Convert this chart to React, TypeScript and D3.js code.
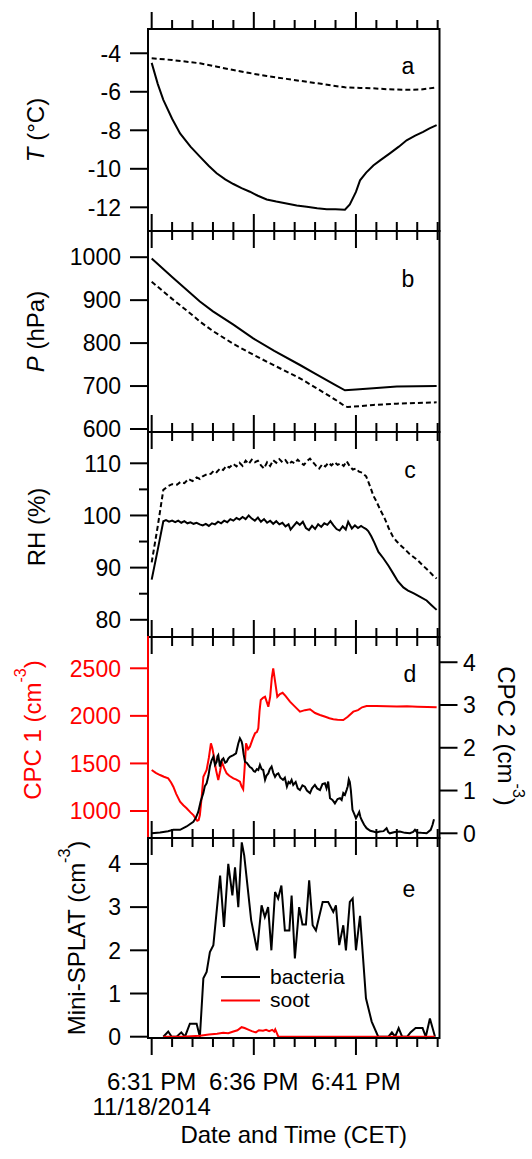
import React from "react";
import * as d3 from "d3";

// ---------- DATA (minutes after 6:30 PM, 11/18/2014) ----------
const tempTime = [1.0, 1.3, 1.57, 2.0, 2.39, 2.9, 3.36, 3.8, 4.18, 4.6, 5.0, 5.4, 5.81, 6.2, 6.63, 7.1, 7.6, 8.1, 8.59, 9.1, 9.57, 10.0, 10.46, 10.7, 11.0, 11.2, 11.5, 11.85, 12.2, 12.66, 13.1, 13.48, 13.9, 14.29, 14.6, 14.95];
const tempGas = [-4.5, -5.6, -6.42, -7.4, -8.16, -8.85, -9.37, -9.85, -10.23, -10.55, -10.79, -11.0, -11.19, -11.4, -11.59, -11.7, -11.8, -11.9, -11.97, -12.05, -12.1, -12.1, -12.12, -11.85, -11.2, -10.6, -10.2, -9.83, -9.55, -9.2, -8.85, -8.52, -8.28, -8.08, -7.9, -7.73];
const tempWallTime = [1.0, 2.0, 3.36, 4.2, 5.0, 5.8, 6.63, 7.6, 8.59, 9.5, 10.46, 11.2, 11.85, 12.6, 13.48, 14.2, 14.95];
const tempWall = [-4.26, -4.35, -4.52, -4.7, -4.87, -5.03, -5.18, -5.33, -5.48, -5.62, -5.77, -5.8, -5.82, -5.87, -5.9, -5.88, -5.77];

const presTime = [1.0, 2.0, 3.0, 3.36, 4.0, 5.0, 5.97, 7.0, 8.26, 9.0, 10.0, 10.46, 11.0, 11.85, 13.0, 14.95];
const presSolid = [997, 954, 912, 897, 874, 843, 811, 782, 749, 729, 702, 690, 692, 695, 699, 700];
const presDashTime = [1.0, 2.0, 3.0, 3.36, 4.0, 5.0, 5.97, 7.0, 8.26, 9.0, 10.0, 10.46, 10.6, 11.85, 13.0, 14.95];
const presDash = [943, 903, 865, 850, 828, 798, 773, 748, 718, 697, 668, 653, 651, 656, 659, 662];

const rhWaterTime = [1.0, 1.3, 1.57, 1.7, 1.85, 2.0, 2.15, 2.3, 2.45, 2.6, 2.75, 2.9, 3.05, 3.2, 3.35, 3.5, 3.65, 3.8, 3.95, 4.1, 4.25, 4.4, 4.55, 4.7, 4.85, 5.0, 5.15, 5.3, 5.45, 5.6, 5.75, 5.9, 6.05, 6.2, 6.35, 6.5, 6.65, 6.8, 6.95, 7.1, 7.25, 7.4, 7.55, 7.7, 7.8, 7.95, 8.1, 8.25, 8.4, 8.55, 8.7, 8.85, 9.0, 9.15, 9.3, 9.45, 9.6, 9.75, 9.9, 10.05, 10.2, 10.35, 10.5, 10.62, 10.8, 10.95, 11.1, 11.25, 11.4, 11.5, 11.6, 11.75, 11.9, 12.1, 12.34, 12.6, 12.82, 13.05, 13.32, 13.55, 13.81, 14.1, 14.46, 14.7, 14.95];
const rhWater = [87.7, 93.5, 98.9, 99.1, 98.8, 99.0, 98.7, 99.0, 98.6, 98.9, 98.5, 98.7, 98.4, 98.6, 98.3, 98.1, 98.4, 98.0, 98.5, 98.3, 98.8, 98.5, 99.0, 98.7, 99.3, 99.0, 99.5, 99.2, 99.7, 99.3, 100.0, 99.4, 99.0, 99.6, 98.8, 99.3, 98.6, 99.0, 98.4, 98.9, 98.3, 98.6, 97.9, 98.3, 97.3, 98.0, 98.7, 98.2, 98.8, 97.6, 97.2, 98.0, 97.4, 98.3, 97.8, 98.5, 98.2, 98.9, 98.1, 97.4, 97.1, 97.9, 97.3, 98.8, 97.5, 98.1, 97.6, 98.0, 97.6, 97.4, 97.0, 96.0, 94.8, 93.0, 91.8, 90.3, 88.9, 87.4, 86.2, 85.6, 85.1, 84.5, 83.7, 82.8, 81.9];
const rhIceTime = [1.0, 1.3, 1.57, 1.8, 2.0, 2.24, 2.4, 2.6, 2.8, 3.0, 3.2, 3.36, 3.5, 3.7, 3.9, 4.05, 4.18, 4.35, 4.5, 4.65, 4.8, 5.0, 5.15, 5.3, 5.45, 5.6, 5.75, 5.9, 6.05, 6.2, 6.35, 6.5, 6.65, 6.8, 6.95, 7.1, 7.25, 7.4, 7.55, 7.7, 7.85, 8.0, 8.15, 8.3, 8.45, 8.6, 8.75, 8.9, 9.05, 9.2, 9.35, 9.5, 9.65, 9.8, 9.95, 10.1, 10.25, 10.4, 10.55, 10.7, 10.85, 11.0, 11.15, 11.3, 11.5, 11.7, 11.85, 12.0, 12.2, 12.4, 12.6, 12.8, 13.0, 13.15, 13.4, 13.6, 13.8, 14.0, 14.25, 14.5, 14.75, 14.95];
const rhIce = [91.0, 98.0, 104.9, 105.6, 106.0, 105.9, 106.4, 106.2, 107.0, 106.6, 107.3, 107.0, 107.5, 107.9, 108.0, 108.6, 108.3, 109.0, 108.7, 109.5, 109.2, 109.9, 109.4, 110.1, 109.5, 110.5, 109.9, 110.7, 110.2, 110.5, 109.6, 109.0, 110.2, 109.5, 110.6, 110.1, 110.8, 110.2, 110.6, 109.8, 110.3, 110.0, 110.7, 110.1, 109.7, 110.4, 110.9, 110.2, 109.5, 109.0, 109.8, 109.4, 110.1, 109.6, 110.2, 109.7, 110.0, 109.5, 110.4, 109.4, 108.8, 109.0, 108.4, 108.2, 107.5, 105.5, 103.8, 102.7, 101.0, 99.5, 97.6, 96.0, 95.0, 94.4, 93.5, 92.7, 92.1, 91.5, 90.5, 89.6, 88.6, 87.9];

const cpc1Time = [1.0, 1.2, 1.41, 1.6, 1.81, 1.95, 2.06, 2.2, 2.39, 2.55, 2.71, 2.9, 3.04, 3.15, 3.23, 3.3, 3.36, 3.45, 3.53, 3.69, 3.8, 3.9, 3.97, 4.05, 4.15, 4.26, 4.35, 4.43, 4.55, 4.67, 4.8, 5.0, 5.15, 5.32, 5.4, 5.48, 5.55, 5.62, 5.72, 5.81, 5.95, 6.06, 6.15, 6.22, 6.28, 6.34, 6.45, 6.55, 6.63, 6.71, 6.8, 6.88, 6.95, 7.05, 7.15, 7.28, 7.41, 7.55, 7.77, 8.0, 8.26, 8.5, 8.75, 9.0, 9.24, 9.5, 9.7, 9.89, 10.1, 10.38, 10.6, 10.87, 11.1, 11.3, 11.52, 12.0, 12.5, 13.0, 13.5, 14.0, 14.5, 14.95];
const cpc1 = [1431, 1400, 1378, 1360, 1343, 1300, 1255, 1180, 1097, 1060, 1028, 985, 957, 920, 897, 905, 957, 1150, 1360, 1431, 1560, 1711, 1660, 1570, 1430, 1325, 1420, 1518, 1450, 1396, 1370, 1343, 1330, 1308, 1260, 1228, 1450, 1711, 1650, 1676, 1760, 1817, 1830, 1869, 2050, 2167, 2190, 2201, 2150, 2096, 2200, 2400, 2500, 2350, 2201, 2230, 2243, 2210, 2149, 2100, 2044, 2060, 2069, 2030, 2009, 1990, 1975, 1964, 1960, 1956, 1990, 2044, 2060, 2090, 2104, 2104, 2100, 2098, 2100, 2096, 2094, 2090];
const cpc2Time = [1.0, 1.41, 1.8, 2.06, 2.39, 2.71, 3.04, 3.15, 3.28, 3.4, 3.53, 3.6, 3.69, 3.78, 3.85, 3.93, 4.02, 4.1, 4.18, 4.22, 4.26, 4.3, 4.34, 4.42, 4.51, 4.6, 4.67, 4.75, 4.83, 5.0, 5.13, 5.24, 5.32, 5.4, 5.44, 5.5, 5.57, 5.65, 5.73, 5.81, 5.9, 6.0, 6.06, 6.15, 6.22, 6.3, 6.38, 6.46, 6.55, 6.62, 6.71, 6.78, 6.87, 6.95, 7.04, 7.12, 7.2, 7.3, 7.43, 7.52, 7.62, 7.7, 7.77, 7.85, 7.93, 8.05, 8.15, 8.26, 8.38, 8.5, 8.6, 8.75, 8.85, 8.99, 9.1, 9.24, 9.36, 9.48, 9.56, 9.64, 9.73, 9.85, 9.97, 10.1, 10.22, 10.3, 10.38, 10.46, 10.54, 10.6, 10.65, 10.7, 10.75, 10.83, 10.92, 11.0, 11.08, 11.16, 11.22, 11.28, 11.4, 11.52, 11.7, 11.85, 12.0, 12.17, 12.35, 12.5, 12.58, 12.66, 12.9, 13.15, 13.4, 13.64, 13.8, 13.89, 14.0, 14.2, 14.46, 14.66, 14.75, 14.82];
const cpc2 = [0, 0.02, 0.05, 0.08, 0.08, 0.16, 0.27, 0.35, 0.5, 0.75, 0.94, 1.1, 1.17, 1.35, 1.56, 1.7, 1.79, 1.6, 1.67, 1.8, 1.83, 1.7, 1.56, 1.7, 1.75, 1.65, 1.67, 1.75, 1.79, 1.83, 1.87, 2.1, 2.22, 2.15, 2.07, 1.85, 1.67, 1.65, 1.6, 1.55, 1.52, 1.45, 1.44, 1.5, 1.48, 1.6, 1.5, 1.48, 1.25, 1.35, 1.4, 1.5, 1.56, 1.42, 1.32, 1.38, 1.4, 1.3, 1.25, 1.3, 1.09, 1.2, 1.17, 1.25, 1.13, 1.2, 1.05, 1.01, 1.12, 1.09, 1.0, 0.94, 1.05, 1.13, 1.05, 1.01, 1.15, 1.17, 1.05, 1.21, 0.82, 0.78, 0.7, 0.8, 0.82, 0.78, 0.94, 0.9, 1.01, 1.1, 1.26, 1.2, 1.01, 0.55, 0.45, 0.35, 0.42, 0.5, 0.38, 0.31, 0.2, 0.12, 0.06, 0.04, 0.02, 0.04, 0.05, 0.12, 0.03, 0, 0.03, 0.04, 0.01, 0, 0.03, 0.08, 0.02, 0.01, 0, 0.08, 0.2, 0.33];

const splatTime = [1.57, 1.81, 1.98, 2.22, 2.45, 2.63, 2.87, 3.2, 3.36, 3.53, 3.69, 3.85, 4.02, 4.35, 4.54, 4.75, 4.95, 5.08, 5.24, 5.41, 5.53, 5.87, 6.16, 6.38, 6.54, 6.7, 6.86, 7.04, 7.19, 7.35, 7.52, 7.74, 7.85, 8.01, 8.22, 8.38, 8.55, 8.71, 8.88, 9.04, 9.37, 9.64, 9.89, 10.02, 10.18, 10.38, 10.51, 10.7, 10.84, 11.0, 11.2, 11.49, 11.77, 12.09, 12.59, 12.76, 12.92, 13.09, 13.26, 13.51, 13.67, 13.92, 14.26, 14.42, 14.62, 14.87];
const bacteria = [0, 0.12, 0, 0, 0.1, 0, 0.3, 0.3, 0, 1.35, 1.5, 1.96, 2.12, 3.73, 2.54, 4.0, 3.27, 3.92, 3.0, 4.5, 4.2, 2.7, 2.0, 3.04, 2.77, 3.0, 2.0, 3.35, 3.2, 3.5, 2.46, 2.46, 3.27, 1.81, 3.0, 2.6, 2.6, 3.62, 2.58, 2.46, 3.12, 3.12, 2.89, 3.04, 2.12, 2.58, 2.0, 3.12, 3.2, 2.0, 2.8, 0.89, 0.35, 0, 0, 0.1, 0, 0.2, 0, 0, 0.1, 0.2, 0.2, 0, 0.42, 0];
const sootTime = [1.57, 2.5, 3.36, 3.8, 4.2, 4.5, 4.75, 5.0, 5.2, 5.4, 5.55, 5.7, 5.9, 6.1, 6.25, 6.45, 6.6, 6.75, 6.9, 7.0, 7.05, 7.2, 14.87];
const soot = [0, 0, 0.02, 0.05, 0.07, 0.09, 0.08, 0.12, 0.15, 0.22, 0.2, 0.17, 0.13, 0.1, 0.15, 0.14, 0.16, 0.13, 0.16, 0.12, 0.17, 0.0, 0];

const tTicks = [-12, -10, -8, -6, -4];
const pTicks = [600, 700, 800, 900, 1000];
const rhTicks = [80, 90, 100, 110];
const rhMinor = [85, 95, 105];
const cpc1Ticks = [1000, 1500, 2000, 2500];
const cpc2Ticks = [0, 1, 2, 3, 4];
const splatTicks = [0, 1, 2, 3, 4];
const legendLabels = ["bacteria", "soot"];
const dateLabel = "11/18/2014";

// ---------- LAYOUT ----------
const W = 532, H = 1159;
const L = 148, R = 439.5;
const FONT = "'Liberation Sans', Arial, sans-serif";
const FS = 23;
const TS = 24;
const panels = [
  { top: 29, bottom: 231 },
  { top: 231, bottom: 432 },
  { top: 432, bottom: 637 },
  { top: 637, bottom: 838 },
  { top: 838, bottom: 1038 },
];
const BASE = new Date(2014, 10, 18, 18, 30, 0).getTime();
const at = (m: number) => new Date(BASE + m * 60000);

const x = d3.scaleTime().domain([at(0.82), at(15.09)]).range([L, R]);
const yA = d3.scaleLinear().domain([-13.23, -2.74]).range([panels[0].bottom, panels[0].top]);
const yB = d3.scaleLinear().domain([593, 1061]).range([panels[1].bottom, panels[1].top]);
const yC = d3.scaleLinear().domain([76.7, 116]).range([panels[2].bottom, panels[2].top]);
const yD1 = d3.scaleLinear().domain([716, 2829]).range([panels[3].bottom, panels[3].top]);
const yD2 = d3.scaleLinear().domain([-0.11, 4.59]).range([panels[3].bottom, panels[3].top]);
const yE = d3.scaleLinear().domain([-0.03, 4.6]).range([panels[4].bottom, panels[4].top]);

function path(ts: number[], vs: number[], y: d3.ScaleLinear<number, number>) {
  const gen = d3.line<number>().x((_, i) => x(at(ts[i]))).y((v) => y(v));
  return gen(vs) || "";
}

const xTicks = x.ticks(d3.timeMinute.every(1) as any);
const fmt = d3.timeFormat("%-I:%M %p");

function YAxisLeft({ y, ticks, minor = [], color = "black" }: any) {
  return (
    <g>
      {ticks.map((t: number) => (
        <g key={t}>
          <line x1={L - 18} x2={L} y1={y(t)} y2={y(t)} stroke={color} strokeWidth={2} />
          <text x={121} y={y(t)} dy="0.36em" textAnchor="end" fill={color} fontSize={FS} fontFamily={FONT}>
            {t < 0 ? "-" + Math.abs(t) : t}
          </text>
        </g>
      ))}
      {minor.map((t: number) => (
        <line key={"m" + t} x1={L - 9} x2={L} y1={y(t)} y2={y(t)} stroke={color} strokeWidth={2} />
      ))}
    </g>
  );
}

export default function App() {
  return (
    <svg width={W} height={H} style={{ position: "absolute", left: 0, top: 0, background: "white" }} fontFamily={FONT}>
      <rect width={W} height={H} fill="white" />
      {panels.map((p, i) => (
        <g key={"xt" + i}>
          {xTicks.map((d) => {
            const m = d.getMinutes();
            const major = (m - 31) % 5 === 0;
            const len = major ? 17 : 9;
            const xx = x(d);
            return (
              <g key={+d}>
                <line x1={xx} x2={xx} y1={p.top - len} y2={p.top} stroke="black" strokeWidth={2} />
                <line x1={xx} x2={xx} y1={p.bottom} y2={p.bottom + len} stroke="black" strokeWidth={2} />
              </g>
            );
          })}
        </g>
      ))}

      {/* Panel a */}
      <path d={path(tempTime, tempGas, yA)} fill="none" stroke="black" strokeWidth={2} />
      <path d={path(tempWallTime, tempWall, yA)} fill="none" stroke="black" strokeWidth={2} strokeDasharray="5 3" />
      <YAxisLeft y={yA} ticks={tTicks} />
      <text x={408} y={74} textAnchor="middle" fontSize={FS}>a</text>
      <text transform={`translate(44,${(panels[0].top + panels[0].bottom) / 2}) rotate(-90)`} textAnchor="middle" fontSize={TS}>
        <tspan fontStyle="italic">T</tspan> (°C)
      </text>

      {/* Panel b */}
      <path d={path(presTime, presSolid, yB)} fill="none" stroke="black" strokeWidth={2} />
      <path d={path(presDashTime, presDash, yB)} fill="none" stroke="black" strokeWidth={2} strokeDasharray="5 3" />
      <YAxisLeft y={yB} ticks={pTicks} />
      <text x={408} y={287} textAnchor="middle" fontSize={FS}>b</text>
      <text transform={`translate(44,${(panels[1].top + panels[1].bottom) / 2}) rotate(-90)`} textAnchor="middle" fontSize={TS}>
        <tspan fontStyle="italic">P</tspan> (hPa)
      </text>

      {/* Panel c */}
      <path d={path(rhWaterTime, rhWater, yC)} fill="none" stroke="black" strokeWidth={2} />
      <path d={path(rhIceTime, rhIce, yC)} fill="none" stroke="black" strokeWidth={2} strokeDasharray="5 3" />
      <YAxisLeft y={yC} ticks={rhTicks} minor={rhMinor} />
      <text x={410} y={478} textAnchor="middle" fontSize={FS}>c</text>
      <text transform={`translate(45,527) rotate(-90)`} textAnchor="middle" fontSize={TS}>RH (%)</text>

      {/* Panel d */}
      <path d={path(cpc1Time, cpc1, yD1)} fill="none" stroke="red" strokeWidth={2} />
      <path d={path(cpc2Time, cpc2, yD2)} fill="none" stroke="black" strokeWidth={2} />
      <YAxisLeft y={yD1} ticks={cpc1Ticks} color="red" />
      {cpc2Ticks.map((t) => (
        <g key={"r" + t}>
          <line x1={R} x2={R + 18} y1={yD2(t)} y2={yD2(t)} stroke="black" strokeWidth={2} />
          <text x={463} y={yD2(t)} dy="0.36em" fontSize={FS}>{t}</text>
        </g>
      ))}
      <text x={410} y={682} textAnchor="middle" fontSize={FS}>d</text>
      <text transform={`translate(41,730) rotate(-90)`} textAnchor="middle" fontSize={TS} fill="red">
        CPC 1 (cm<tspan dy={-15} fontSize={16}>-3</tspan><tspan dy={15}>)</tspan>
      </text>
      <text transform={`translate(498,736) rotate(90)`} textAnchor="middle" fontSize={TS}>
        CPC 2 (cm<tspan dy={-15} fontSize={16}>-3</tspan><tspan dy={15}>)</tspan>
      </text>

      {/* Panel e */}
      <path d={path(splatTime, bacteria, yE)} fill="none" stroke="black" strokeWidth={2} />
      <path d={path(sootTime, soot, yE)} fill="none" stroke="red" strokeWidth={2} />
      <YAxisLeft y={yE} ticks={splatTicks} />
      <text x={409} y={897} textAnchor="middle" fontSize={FS}>e</text>
      <text transform={`translate(85,938) rotate(-90)`} textAnchor="middle" fontSize={TS}>
        Mini-SPLAT (cm<tspan dy={-15} fontSize={16}>-3</tspan><tspan dy={15}>)</tspan>
      </text>
      {legendLabels.map((lab, i) => (
        <g key={lab}>
          <line x1={221} x2={260} y1={977 + i * 23.5} y2={977 + i * 23.5} stroke={i === 0 ? "black" : "red"} strokeWidth={2} />
          <text x={270} y={984 + i * 23} fontSize={21}>{lab}</text>
        </g>
      ))}

      {/* frames */}
      {panels.map((p, i) => (
        <g key={"f" + i}>
          <line x1={L} x2={R} y1={p.top} y2={p.top} stroke="black" strokeWidth={2} />
          <line x1={L} x2={R} y1={p.bottom} y2={p.bottom} stroke="black" strokeWidth={2} />
          <line x1={L} x2={L} y1={p.top - 1} y2={p.bottom + 1} stroke={i === 3 ? "red" : "black"} strokeWidth={2} />
          <line x1={R} x2={R} y1={p.top - 1} y2={p.bottom + 1} stroke="black" strokeWidth={2} />
        </g>
      ))}

      {/* x labels */}
      {xTicks.filter((d) => (d.getMinutes() - 31) % 5 === 0).map((d) => (
        <text key={"xl" + +d} x={x(d)} y={1090} textAnchor="middle" fontSize={TS}>{fmt(d)}</text>
      ))}
      <text x={x(at(1))} y={1115} textAnchor="middle" fontSize={TS}>{dateLabel}</text>
      <text x={(L + R) / 2} y={1143} textAnchor="middle" fontSize={TS}>Date and Time (CET)</text>
    </svg>
  );
}
